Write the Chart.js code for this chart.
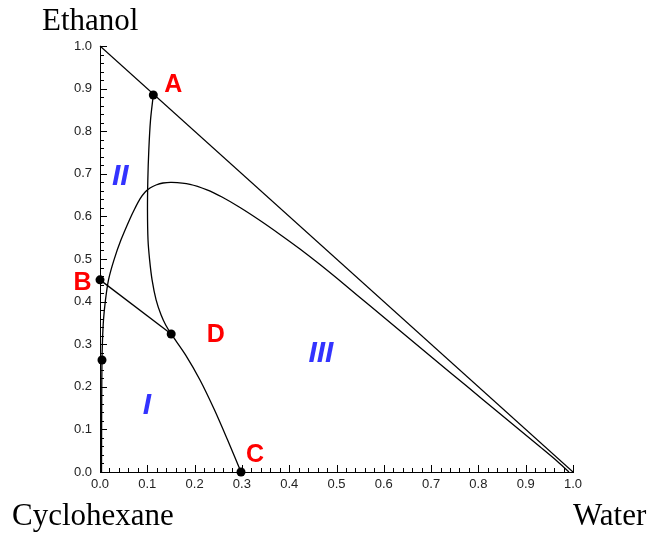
<!DOCTYPE html>
<html><head><meta charset="utf-8">
<script src="https://cdn.jsdelivr.net/npm/chart.js@4/dist/chart.umd.min.js"></script>
<style>html,body{margin:0;padding:0;background:#fff;}#wrap{width:652px;height:533px;position:relative;}</style>
</head><body><div id="wrap"><canvas id="c" width="652" height="533"></canvas></div>
<script>
// ---- data ----
const tickValues = [0,0.1,0.2,0.3,0.4,0.5,0.6,0.7,0.8,0.9,1.0];
const tickLabels = ['0.0','0.1','0.2','0.3','0.4','0.5','0.6','0.7','0.8','0.9','1.0'];
const axisTitleY = 'Ethanol';
const axisTitleLeft = 'Cyclohexane';
const axisTitleRight = 'Water';

const hypotenuseX = [0, 1];
const hypotenuseY = [1, 0];

const binodalX = [0.0032,0.0036,0.0042,0.0053,0.0074,0.0116,0.0180,0.0296,0.0444,0.0634,0.0740,0.0846,0.0951,0.1057,0.1184,0.1332,0.1516,
                  0.1903,0.2262,0.2579,0.2960,0.3383,0.3805,0.4228,0.4651,0.5180,0.5708,0.6342,0.7040,0.7738,0.8457,0.8879,0.9302,0.9619,0.9915];
const binodalY = [0.000,0.169,0.263,0.310,0.357,0.404,0.451,0.498,0.545,0.5946,0.6192,0.6413,0.6568,0.6667,0.6737,0.6784,0.6800,
                  0.6754,0.6624,0.6455,0.6209,0.5904,0.5577,0.5235,0.4869,0.4390,0.3901,0.3315,0.2671,0.2028,0.1366,0.0979,0.0592,0.0298,0.000];

const plaitX = [0.1127,0.1068,0.1032,0.1011,0.1004,0.1015,0.1049,0.1101,0.1186,0.1290,0.1389,0.1505,0.1808,0.2114,0.2419,0.2698,0.2981];
const plaitY = [0.885,0.826,0.756,0.685,0.615,0.545,0.498,0.451,0.404,0.369,0.345,0.324,0.275,0.216,0.146,0.075,0.000];

const tieX = [0.000, 0.1505];
const tieY = [0.451, 0.324];

const dotX = [0.1127, 0.000, 0.1505, 0.2981, 0.0042];
const dotY = [0.885, 0.451, 0.324, 0.000, 0.263];

const pointNames = ['A','B','C','D'];
const pointNameX = [0.155, -0.037, 0.328, 0.245];
const pointNameY = [0.911, 0.446, 0.042, 0.324];

const regionNames = ['I','II','III'];
const regionX = [0.099, 0.043, 0.467];
const regionY = [0.157, 0.696, 0.281];

// ---- helpers ----
const pts = (xs, ys) => xs.map((x, i) => ({x, y: ys[i]}));

const decor = {
  id: 'decor',
  afterDraw(chart) {
    const ctx = chart.ctx;
    const xs = chart.scales.x, ys = chart.scales.y;
    const ca = chart.chartArea;
    ctx.save();
    ctx.strokeStyle = '#000';
    ctx.lineWidth = 1;
    for (let k = 0; k <= 50; k++) {
      const v = k / 50;
      const major = (k % 5 === 0);
      const len = major ? 7 : 4;
      const px = Math.round(xs.getPixelForValue(v)) + 0.5;
      ctx.beginPath(); ctx.moveTo(px, ca.bottom); ctx.lineTo(px, ca.bottom - len); ctx.stroke();
      const py = Math.round(ys.getPixelForValue(v)) + 0.5;
      ctx.beginPath(); ctx.moveTo(ca.left, py); ctx.lineTo(ca.left + len, py); ctx.stroke();
    }
    ctx.fillStyle = '#000';
    ctx.font = '31px "Liberation Serif", "Times New Roman", serif';
    ctx.textBaseline = 'alphabetic';
    ctx.textAlign = 'left';
    ctx.fillText(axisTitleY, 42, 30);
    ctx.fillText(axisTitleLeft, 12, 525);
    ctx.fillText(axisTitleRight, 573, 525);
    ctx.fillStyle = '#ff0000';
    ctx.font = 'bold 25px "Liberation Sans", Arial, sans-serif';
    ctx.textAlign = 'center';
    ctx.textBaseline = 'middle';
    pointNames.forEach((t, i) => {
      ctx.fillText(t, xs.getPixelForValue(pointNameX[i]), ys.getPixelForValue(pointNameY[i]) + 1);
    });
    ctx.fillStyle = '#3333ff';
    ctx.font = 'italic bold 30px "Liberation Sans", Arial, sans-serif';
    regionNames.forEach((t, i) => {
      ctx.fillText(t, xs.getPixelForValue(regionX[i]), ys.getPixelForValue(regionY[i]) + 1);
    });
    ctx.restore();
  }
};

const lineStyle = {showLine: true, borderColor: '#000', borderWidth: 1.3, pointRadius: 0, fill: false, clip: false};

new Chart(document.getElementById('c'), {
  type: 'scatter',
  data: {
    datasets: [
      Object.assign({data: pts(hypotenuseX, hypotenuseY), tension: 0}, lineStyle, {borderWidth: 1.1}),
      Object.assign({data: pts(binodalX, binodalY), tension: 0.3}, lineStyle),
      Object.assign({data: pts(plaitX, plaitY), tension: 0.3}, lineStyle),
      Object.assign({data: pts(tieX, tieY), tension: 0}, lineStyle),
      {data: pts(dotX, dotY), showLine: false, pointRadius: 4.5, pointBackgroundColor: '#000', pointBorderColor: '#000', pointBorderWidth: 0, clip: false}
    ]
  },
  options: {
    responsive: false,
    devicePixelRatio: 1,
    animation: false,
    events: [],
    layout: {padding: {top: 46, right: 79, left: 0, bottom: 0}},
    plugins: {legend: {display: false}, tooltip: {enabled: false}},
    scales: {
      x: {
        type: 'linear', min: 0, max: 1,
        afterBuildTicks: s => { s.ticks = tickValues.map(v => ({value: v})); },
        afterFit: s => { s.height = 61; },
        grid: {display: true, drawOnChartArea: false, drawTicks: false, color: 'rgba(0,0,0,0)'},
        border: {display: true, color: '#000', width: 1},
        ticks: {
          padding: 5, maxRotation: 0, autoSkip: false, color: '#222',
          font: {family: '"Liberation Sans", Arial, sans-serif', size: 13},
          callback: (v, i) => tickLabels[i]
        }
      },
      y: {
        type: 'linear', min: 0, max: 1,
        afterBuildTicks: s => { s.ticks = tickValues.map(v => ({value: v})); },
        afterFit: s => { s.width = 100; },
        grid: {display: true, drawOnChartArea: false, drawTicks: false, color: 'rgba(0,0,0,0)'},
        border: {display: true, color: '#000', width: 1},
        ticks: {
          padding: 8, autoSkip: false, color: '#222',
          font: {family: '"Liberation Sans", Arial, sans-serif', size: 13},
          callback: (v, i) => tickLabels[i]
        }
      }
    }
  },
  plugins: [decor]
});
</script>
</body></html>
